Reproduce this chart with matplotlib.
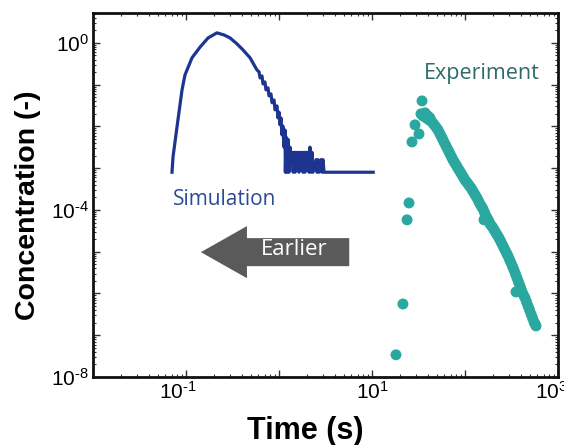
import numpy as np
import matplotlib
matplotlib.use('Agg')
import matplotlib.pyplot as plt
import matplotlib.transforms as mtransforms
from matplotlib.ticker import LogLocator, NullFormatter
from matplotlib.patches import FancyArrow

plt.rcParams['font.family'] = ['Liberation Sans', 'DejaVu Sans']
plt.rcParams['mathtext.fontset'] = 'custom'
plt.rcParams['mathtext.rm'] = 'Liberation Sans'
plt.rcParams['mathtext.it'] = 'Liberation Sans:italic'
plt.rcParams['mathtext.bf'] = 'Liberation Sans:bold'

# simulated residence-time curve (s, -)
sim_time = [0.0707, 0.0725, 0.080, 0.0906, 0.0975, 0.116, 0.142, 0.173, 0.215,
            0.256, 0.297, 0.353, 0.410, 0.488, 0.579,
            0.610, 0.625, 0.656, 0.673, 0.706, 0.724, 0.762, 0.780, 0.820, 0.841,
            0.883, 0.906, 0.951, 0.975, 1.00, 1.026, 1.05, 1.077, 1.10, 1.13,
            1.16, 1.17, 1.19, 1.22, 1.25, 1.28, 1.31, 1.35, 1.38, 1.42, 1.45,
            1.49, 1.52, 1.56, 1.60, 1.64, 1.68, 1.73, 1.77, 1.81, 1.86, 1.90,
            1.95, 2.00, 2.05, 2.10, 2.15, 2.21, 2.26, 2.32, 2.50, 2.56, 2.63,
            2.69, 2.83, 2.90, 2.97, 3.05, 10.3]
sim_conc = [0.0008, 0.00186, 0.0097, 0.0748, 0.171, 0.44, 0.80, 1.32, 1.74,
            1.55, 1.32, 0.95, 0.68, 0.44, 0.225,
            0.202, 0.145, 0.162, 0.104, 0.116, 0.075, 0.084, 0.054, 0.060, 0.037,
            0.043, 0.025, 0.031, 0.016, 0.022, 0.0109, 0.016, 0.0063, 0.0103, 0.0032,
            0.0082, 0.0008, 0.0056, 0.0008, 0.0049, 0.0008, 0.0032, 0.0016, 0.0024, 0.0008, 0.0024,
            0.0008, 0.0024, 0.0016, 0.0024, 0.0008, 0.0024, 0.0012, 0.0024, 0.0008, 0.0024, 0.0008,
            0.0024, 0.0016, 0.0024, 0.0008, 0.0032, 0.0008, 0.0024, 0.0008, 0.0016, 0.0008, 0.0016,
            0.0008, 0.0016, 0.0008, 0.0016, 0.0008, 0.0008]

# measured concentration (s, -)
exp_time = [18.1, 21.5, 23.8, 25.0, 26.9, 29.0, 32.0, 33.6, 34.5,
            35.3, 37.2, 38.1, 40.0, 41.0, 42.0, 44.2, 45.8, 47.6, 49.4, 51.3, 53.2,
            55.2, 57.3, 59.4, 61.7, 64.0, 66.5, 69.0, 71.6, 74.3, 77.1, 80.0, 83.0,
            86.1, 89.5, 92.9, 96.4, 100, 103.8, 107.7, 111.7, 116, 120.4,
            125, 129.7, 134.6, 139.7, 144.9, 150.4, 156, 160, 162, 168, 172.5,
            177, 181, 186, 193, 200, 207.6, 215, 223.5,
            232, 241, 250, 259.4, 269, 279.3, 290, 300.9, 312, 324.3, 336, 349,
            353, 362, 376, 390, 400, 410, 425.6,
            442, 458.4, 476, 494, 513, 532, 552, 566, 580]
exp_conc = [3.4e-8, 5.6e-7, 5.8e-5, 1.47e-4, 4.25e-3, 0.0109, 6.6e-3, 0.0199, 0.0408,
            0.0178, 0.0211, 0.0160, 0.0178, 0.0143, 0.0160, 0.0128, 0.0115, 0.0103, 0.0092, 0.0082, 0.0070,
            0.0059, 5.02e-3, 4.25e-3, 3.61e-3, 3.06e-3, 2.59e-3, 2.19e-3, 1.86e-3, 1.58e-3, 1.37e-3, 1.20e-3, 1.04e-3,
            9.1e-4, 7.9e-4, 6.9e-4, 6.0e-4, 5.2e-4, 4.69e-4, 4.2e-4, 3.76e-4, 3.37e-4, 2.93e-4,
            2.55e-4, 2.22e-4, 1.94e-4, 1.64e-4, 1.39e-4, 1.21e-4, 1.06e-4, 5.8e-5, 8.7e-5, 7.2e-5, 6.4e-5,
            5.8e-5, 5.2e-5, 4.6e-5, 4.14e-5, 3.7e-5, 3.23e-5, 2.8e-5, 2.45e-5,
            2.13e-5, 1.81e-5, 1.53e-5, 1.30e-5, 1.10e-5, 9.3e-6, 7.9e-6, 6.5e-6, 5.4e-6, 4.43e-6, 3.66e-6, 2.93e-6,
            1.09e-6, 2.35e-6, 1.88e-6, 1.51e-6, 1.28e-6, 1.09e-6, 9.2e-7,
            7.8e-7, 6.25e-7, 5.0e-7, 4.03e-7, 3.2e-7, 2.59e-7, 2.07e-7, 1.86e-7, 1.67e-7]

x_major = [1e-2, 1e-1, 1e0, 1e1, 1e2, 1e3]
x_labels = ['', r'$10^{\text{-}1}$', '', '$10^{1}$', '', '$10^{3}$']
y_major = [1e-8, 1e-7, 1e-6, 1e-5, 1e-4, 1e-3, 1e-2, 1e-1, 1e0]
y_labels = [r'$10^{\text{-}8}$', '', '', '', r'$10^{\text{-}4}$', '', '', '', '$10^{0}$']

fig = plt.figure(figsize=(5.64, 4.45), dpi=100)
ax = fig.add_axes([0.1649, 0.1528, 0.8245, 0.8180])

ax.plot(sim_time, sim_conc, color='#1d3590', lw=2.3, zorder=3)
ax.scatter(exp_time, exp_conc, s=62, color='#2aa8a0', edgecolors='none', zorder=3)

ax.set_xscale('log')
ax.set_yscale('log')
ax.set_xlim(1e-2, 1e3)
ax.set_ylim(1e-8, 5.2)

ax.set_xticks(x_major)
ax.set_xticklabels(x_labels)
ax.set_yticks(y_major)
ax.set_yticklabels(y_labels)
ax.xaxis.set_minor_locator(LogLocator(base=10, subs=np.arange(2, 10)))
ax.yaxis.set_minor_locator(LogLocator(base=10, subs=np.arange(2, 10), numticks=20))
ax.xaxis.set_minor_formatter(NullFormatter())
ax.yaxis.set_minor_formatter(NullFormatter())
ax.tick_params(which='both', direction='in', top=True, right=True, labelsize=15, color='#333333')
ax.tick_params(which='major', length=5, width=1)
ax.tick_params(which='minor', length=2.5, width=0.8)
ax.tick_params(axis='y', pad=3)
ax.tick_params(axis='x', pad=3)
for sp in ax.spines.values():
    sp.set_linewidth(2.0)
    sp.set_color('#111111')

# nudge the end labels left like the original
xlbls = ax.get_xticklabels()
for i, dx in [(1, -8), (5, -7)]:
    off = mtransforms.ScaledTranslation(dx / 100, 0, fig.dpi_scale_trans)
    xlbls[i].set_transform(xlbls[i].get_transform() + off)

ax.set_xlabel('Time (s)', fontsize=22, fontweight='bold')
ax.set_ylabel('Concentration (-)', fontsize=20.5, fontweight='bold')
ax.xaxis.set_label_coords(0.456, -0.106)
ax.yaxis.set_label_coords(-0.112, 0.473)

ax.text(0.262, 1.74e-4, 'Simulation', color='#2c4a96', fontsize=15,
        family=['Open Sans', 'DejaVu Sans'], ha='center', va='center')
ax.text(152, 0.19, 'Experiment', color='#2f6b6b', fontsize=15.5,
        family=['Open Sans', 'DejaVu Sans'], ha='center', va='center')

arrow = FancyArrow(0.551, 0.343, -0.319, 0, width=0.077, head_width=0.143,
                   head_length=0.099, length_includes_head=True,
                   transform=ax.transAxes, color='#5a5a5a', lw=0)
ax.add_patch(arrow)
ax.text(0.432, 0.349, 'Earlier', transform=ax.transAxes, color='white',
        fontsize=16, family=['Open Sans', 'DejaVu Sans'], ha='center', va='center')

fig.savefig('out.png', dpi=100)
